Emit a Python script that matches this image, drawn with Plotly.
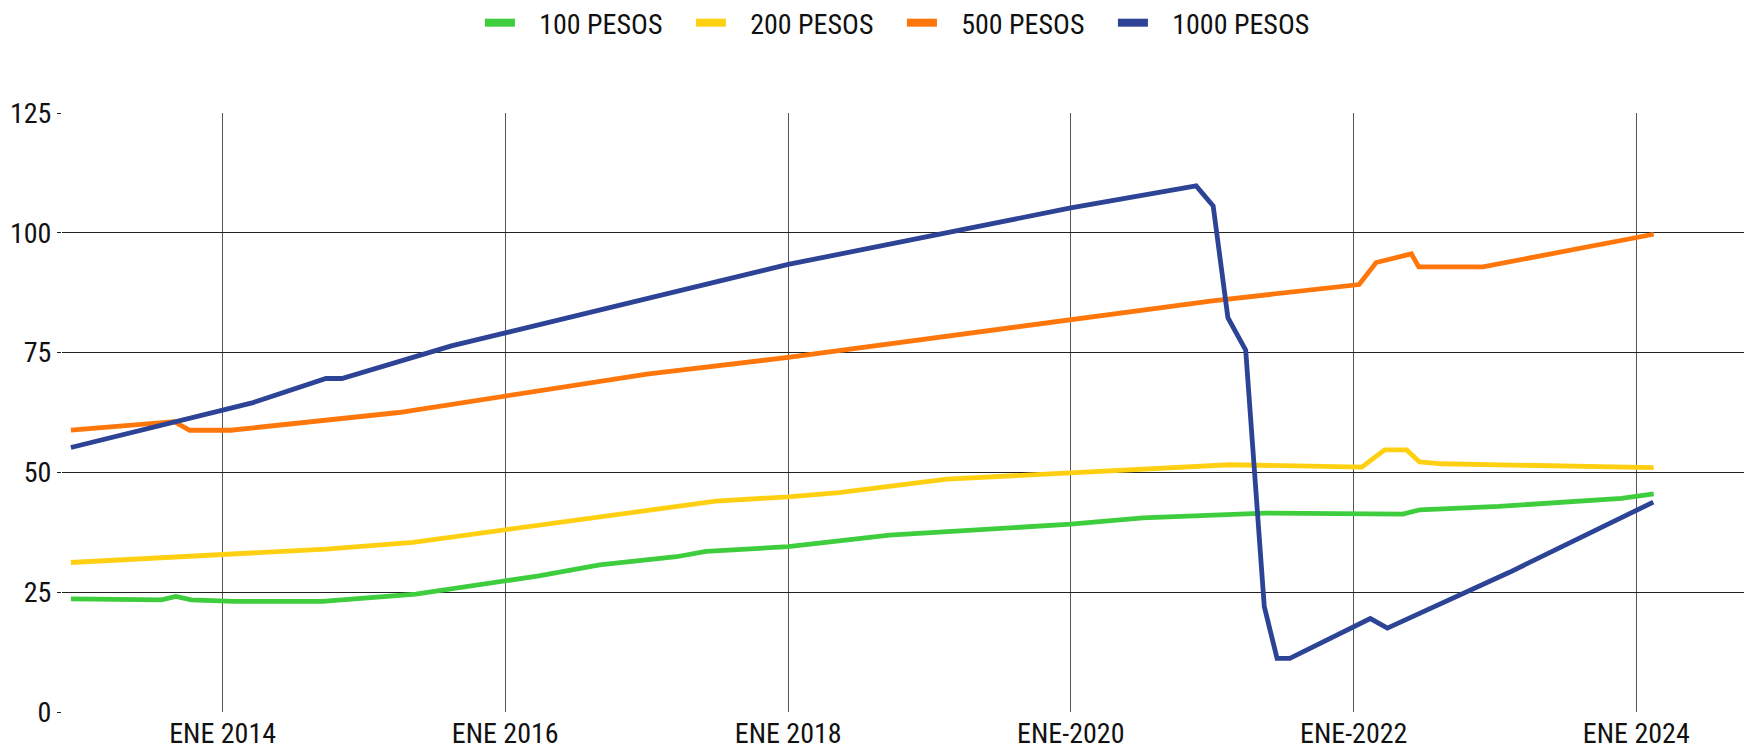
import plotly.graph_objects as go

# ---- data ----
d100 = ["2012-12-05", "2013-07-27", "2013-09-02", "2013-10-12", "2014-01-30", "2014-09-16",
        "2015-05-15", "2016-03-28", "2016-09-01", "2017-03-18", "2017-06-03", "2018-01-01",
        "2018-09-20", "2020-01-01", "2020-07-05", "2021-05-18", "2022-05-08", "2022-06-21",
        "2023-01-11", "2023-11-24", "2024-02-15"]
v100 = [23.6, 23.4, 24.1, 23.4, 23.1, 23.1, 24.6, 28.4, 30.7, 32.4, 33.5, 34.5,
        36.9, 39.2, 40.5, 41.5, 41.3, 42.2, 42.9, 44.6, 45.5]

d200 = ["2012-12-05", "2014-01-01", "2014-09-25", "2015-05-08", "2016-03-28", "2017-04-12",
        "2017-06-28", "2018-01-01", "2018-05-12", "2019-02-15", "2020-01-01", "2020-07-05",
        "2021-02-15", "2022-01-22", "2022-03-22", "2022-05-18", "2022-06-20", "2022-08-18",
        "2024-02-15"]
v200 = [31.2, 32.8, 34.0, 35.4, 38.9, 43.2, 44.0, 44.9, 45.8, 48.6, 49.9, 50.8,
        51.6, 51.1, 54.7, 54.7, 52.2, 51.8, 51.0]

d500 = ["2012-12-05", "2013-08-29", "2013-10-08", "2014-01-22", "2015-04-01", "2016-05-18",
        "2017-01-01", "2018-01-01", "2020-01-01", "2021-01-01", "2022-01-15", "2022-02-28",
        "2022-05-30", "2022-06-18", "2022-12-01", "2024-02-15"]
v500 = [58.8, 60.6, 58.8, 58.8, 62.5, 67.8, 70.5, 74.0, 81.9, 85.8, 89.2, 93.8,
        95.6, 92.9, 92.9, 99.7]

d1000 = ["2012-12-05", "2014-03-18", "2014-09-25", "2014-11-05", "2015-08-15", "2018-01-01",
         "2020-01-01", "2020-11-20", "2021-01-03", "2021-02-10", "2021-03-28", "2021-05-15",
         "2021-06-17", "2021-07-20", "2022-02-13", "2022-03-29", "2023-02-06", "2024-02-14"]
v1000 = [55.2, 64.5, 69.6, 69.6, 76.4, 93.4, 105.2, 109.8, 105.6, 82.3, 75.5, 22.0,
         11.2, 11.2, 19.5, 17.5, 29.1, 43.8]

series_names = ["100 PESOS", "200 PESOS", "500 PESOS", "1000 PESOS"]
series_colors = ["#3DCD3D", "#FFD012", "#FF760A", "#2D4396"]

tick_vals = ["2014-01-01", "2016-01-01", "2018-01-01", "2020-01-01", "2022-01-01", "2024-01-01"]
tick_text = ["ENE 2014", "ENE 2016", "ENE 2018", "ENE-2020", "ENE-2022", "ENE 2024"]

FONT = "Liberation Sans Narrow, Roboto Condensed, Liberation Sans, Arial, sans-serif"
GAP = "\u00a0\u00a0\u00a0"  # gap between legend swatch and its label

fig = go.Figure()
for name, color, xs, ys in zip(series_names, series_colors,
                               [d100, d200, d500, d1000], [v100, v200, v500, v1000]):
    # visible line
    fig.add_trace(go.Scatter(x=xs, y=ys, name=name, mode="lines", legendgroup=name,
                             showlegend=False, line=dict(color=color, width=4.8)))
    # legend swatch (thicker, like the reference's block swatches)
    fig.add_trace(go.Scatter(x=[None], y=[None], name=GAP + name, mode="lines",
                             legendgroup=name, showlegend=True,
                             line=dict(color=color, width=8)))

fig.update_layout(
    width=1744, height=743,
    margin=dict(l=54, r=0, t=105, b=39, autoexpand=False),
    paper_bgcolor="white", plot_bgcolor="white",
    font=dict(family=FONT, size=28, color="#111"),
    showlegend=True,
    legend=dict(orientation="h", x=0.497, xanchor="center", y=1.192, yref="paper",
                yanchor="top", font=dict(size=28), entrywidth=166, itemwidth=30,
                traceorder="normal"),
)
fig.update_xaxes(
    type="date", range=["2012-11-12", "2024-10-26"],
    tickvals=tick_vals, ticktext=tick_text, tickangle=0,
    showgrid=True, gridcolor="#555", gridwidth=1,
    showline=False, zeroline=False, ticks="", ticklabelstandoff=2,
)
fig.update_yaxes(
    range=[0, 125], tickvals=[0, 25, 50, 75, 100, 125],
    showgrid=True, gridcolor="#222", gridwidth=1,
    showline=False, zeroline=False, ticks="outside", ticklen=4, tickcolor="#222",
    ticklabelstandoff=0,
)

fig.write_html("out.html")
